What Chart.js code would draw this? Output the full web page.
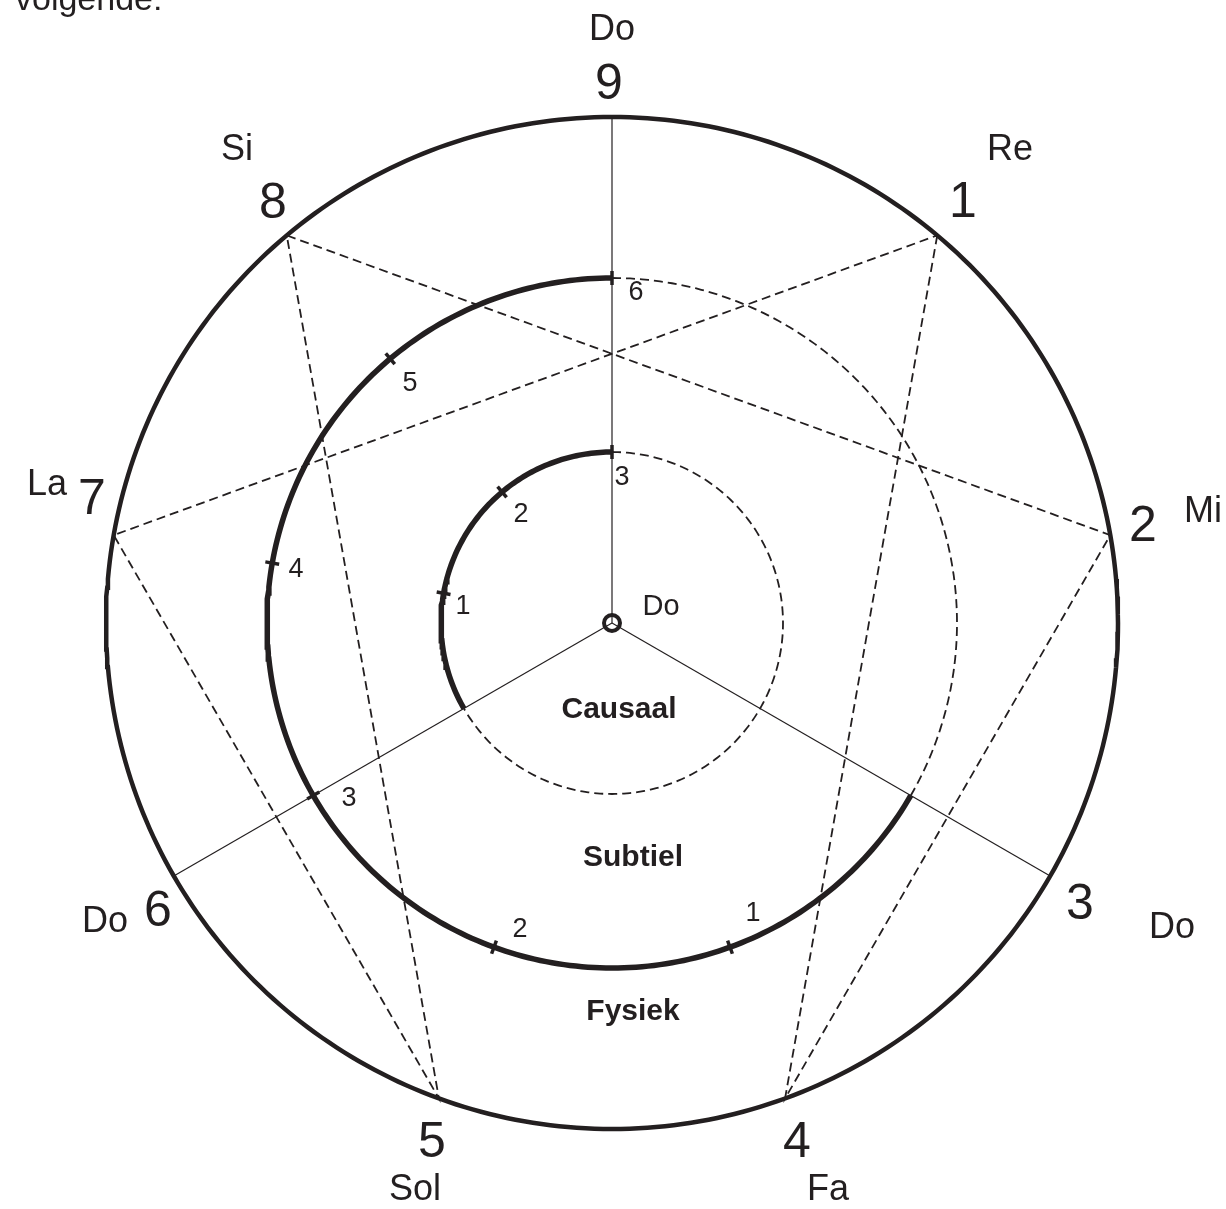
<!DOCTYPE html>
<html>
<head>
<meta charset="utf-8">
<script src="https://cdn.jsdelivr.net/npm/chart.js@4"></script>
<style>
  html, body { margin: 0; padding: 0; background: #fff; overflow: hidden; }
  canvas { display: block; }
</style>
</head>
<body>
<canvas id="enneagram" width="1226" height="1209"></canvas>
<script>
// --- data ---
const pointNumbers = ['9', '1', '2', '3', '4', '5', '6', '7', '8'];
const pointAngles = [0, 40, 80, 120, 160, 200, 240, 280, 320];
const noteNames = ['Do', 'Re', 'Mi', 'Do', 'Fa', 'Sol', 'Do', 'La', 'Si'];
const hexadPath = ['1', '4', '2', '8', '5', '7', '1'];
const trianglePoints = ['9', '3', '6'];
const ringRadii = [171, 345, 506];           // inner, middle, outer (chart units)
const zoneNames = ['Causaal', 'Subtiel', 'Fysiek'];
const innerSteps = ['1', '2', '3'];
const innerStepAngles = [280, 320, 360];
const outerSteps = ['1', '2', '3', '4', '5', '6'];
const outerStepAngles = [160, 200, 240, 280, 320, 360];
const hubNote = 'Do';
const innerArcStart = 240;
const outerArcStart = 120;

// --- layout / styling ---
const INK = '#231f20';
const FONT = '"Liberation Sans", Arial, sans-serif';
const DASH = [9, 5];
const TICK = 7;
const numberLabelAt = [[-3, 538], [351, 420], [531, 96], [468, -282], [185, -520],
    [-180, -520], [-454, -289], [-520, 123], [-339, 419]];
const noteLabelAt = [[0, 593], [398, 473], [591, 111], [560, -305], [216, -567],
    [-197, -567], [-507, -299], [-565, 138], [-375, 473]];
const innerStepAt = [[-149, 16], [-91, 108], [10, 145]];
const outerStepAt = [[141, -291], [-92, -307], [-263, -176], [-316, 53], [-202, 239], [24, 330]];
const zoneAt = [[7, -87], [21, -235], [21, -389]];
const hubNoteAt = [49, 16];

function polar(r, deg) {
    const a = deg * Math.PI / 180;
    return { x: r * Math.sin(a), y: r * Math.cos(a) };
}

function arc(r, from, to) {
    const pts = [];
    for (let d = from; d <= to; d += 1) pts.push(polar(r, d));
    return pts;
}

function pointOf(num) {
    return polar(ringRadii[2], pointAngles[pointNumbers.indexOf(num)]);
}

function line(data, width, dash, order) {
    return {
        data,
        showLine: true,
        borderColor: INK,
        borderWidth: width,
        borderDash: dash || [],
        pointRadius: 0,
        pointHoverRadius: 0,
        tension: 0,
        fill: false,
        order: order,
    };
}

const datasets = [];
datasets.push(line(arc(ringRadii[2], 0, 360), 4.5, null, 1));
datasets.push(line(arc(ringRadii[1], 0, outerArcStart), 1.8, DASH, 5));
datasets.push(line(arc(ringRadii[1], outerArcStart, 360), 5.5, null, 2));
datasets.push(line(arc(ringRadii[0], 0, innerArcStart), 1.8, DASH, 5));
datasets.push(line(arc(ringRadii[0], innerArcStart, 360), 5.5, null, 2));
datasets.push(line(hexadPath.map(pointOf), 1.8, DASH, 6));
trianglePoints.forEach((p) => {
    datasets.push(line([{ x: 0, y: 0 }, pointOf(p)], 1.2, null, 7));
});
innerStepAngles.forEach((a) => {
    datasets.push(line([polar(ringRadii[0] - TICK, a), polar(ringRadii[0] + TICK, a)], 3.5, null, 3));
});
outerStepAngles.forEach((a) => {
    datasets.push(line([polar(ringRadii[1] - TICK, a), polar(ringRadii[1] + TICK, a)], 3.5, null, 3));
});
datasets.push({
    data: [{ x: 0, y: 0 }],
    pointRadius: 8,
    pointBorderWidth: 4,
    pointBorderColor: INK,
    pointBackgroundColor: 'rgba(0,0,0,0)',
    order: 0,
});

const labelPlugin = {
    id: 'enneagramLabels',
    afterDatasetsDraw(chart) {
        const { ctx, scales: { x, y } } = chart;
        const put = (text, at, font) => {
            ctx.font = font;
            ctx.fillText(text, x.getPixelForValue(at[0]), y.getPixelForValue(at[1]));
        };
        ctx.save();
        ctx.fillStyle = INK;
        ctx.textAlign = 'center';
        ctx.textBaseline = 'middle';
        pointNumbers.forEach((n, i) => put(n, numberLabelAt[i], `50px ${FONT}`));
        noteNames.forEach((n, i) => put(n, noteLabelAt[i], `36px ${FONT}`));
        innerSteps.forEach((n, i) => put(n, innerStepAt[i], `27px ${FONT}`));
        outerSteps.forEach((n, i) => put(n, outerStepAt[i], `27px ${FONT}`));
        zoneNames.forEach((n, i) => put(n, zoneAt[i], `bold 30px ${FONT}`));
        put(hubNote, hubNoteAt, `29px ${FONT}`);
        // leftover line of the page text above the figure
        ctx.textAlign = 'left';
        ctx.textBaseline = 'alphabetic';
        ctx.font = `34px ${FONT}`;
        ctx.fillText('volgende:', 15, 10);
        ctx.restore();
    },
};

new Chart(document.getElementById('enneagram'), {
    type: 'scatter',
    data: { datasets },
    options: {
        responsive: false,
        animation: false,
        devicePixelRatio: 1,
        layout: { padding: 0, autoPadding: false },
        plugins: { legend: { display: false }, tooltip: { enabled: false } },
        scales: {
            x: { type: 'linear', min: -612, max: 614, display: false },
            y: { type: 'linear', min: -586, max: 623, display: false },
        },
    },
    plugins: [labelPlugin],
});
</script>
</body>
</html>
